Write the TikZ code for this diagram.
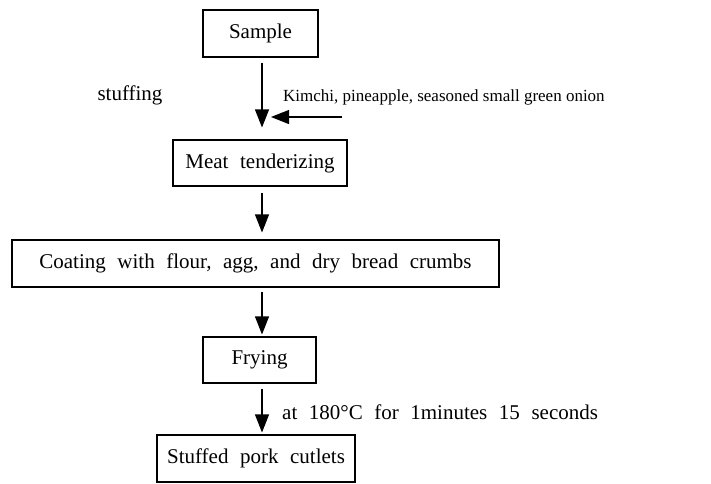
\documentclass[tikz,border=0pt]{standalone}
\usepackage{fontspec}
\setmainfont{Liberation Serif}
\usetikzlibrary{arrows.meta}

\newcommand{\widewords}{\spaceskip=0.55em plus 0.1em\relax}

\begin{document}
\begin{tikzpicture}[x=1pt,y=-1pt,
    box/.style={draw, line width=1.1pt, inner sep=0pt, align=center,
      font=\fontsize{21}{25}\selectfont\widewords},
    note/.style={inner sep=0pt, font=\fontsize{21}{25}\selectfont\widewords},
    flow/.style={line width=1.1pt, -{Triangle[length=18pt,width=14pt]}}]
        \useasboundingbox (0,0) rectangle (711,483);

        \node[box, minimum width=115pt, minimum height=47pt] (sample) at (260.5,33.5) {Sample};
        \node[box, minimum width=174pt, minimum height=46pt] (meat) at (260,163) {Meat tenderizing};
        \node[box, minimum width=487pt, minimum height=47pt] (coat) at (255.5,263.5) {Coating with flour, agg, and dry bread crumbs};
        \node[box, minimum width=113pt, minimum height=46pt] (fry) at (259.5,360) {Frying};
        \node[box, minimum width=198pt, minimum height=47pt] (cutlet) at (256,458.5) {Stuffed pork cutlets};

        \coordinate (axis) at (262,0);
        \coordinate (feed) at (342,117);

        \node[note] (stuffing) at (130,95) {stuffing};
        \node[note, anchor=west, font=\fontsize{17}{20}\selectfont] (kimchi) at (283,97) {Kimchi, pineapple, seasoned small green onion};
        \node[note, anchor=west] (cond) at (282,412) {at 180°C for 1minutes 15 seconds};

        \draw[flow, shorten <=5pt, shorten >=12pt] (sample.south -| axis) -- (meat.north -| axis);
        \draw[flow, shorten >=9pt] (feed) -- (feed -| axis);
        \draw[flow, shorten <=6pt, shorten >=7pt] (meat.south -| axis) -- (coat.north -| axis);
        \draw[flow, shorten <=4pt, shorten >=2pt] (coat.south -| axis) -- (fry.north -| axis);
        \draw[flow, shorten <=5pt, shorten >=2pt] (fry.south -| axis) -- (cutlet.north -| axis);
\end{tikzpicture}
\end{document}
